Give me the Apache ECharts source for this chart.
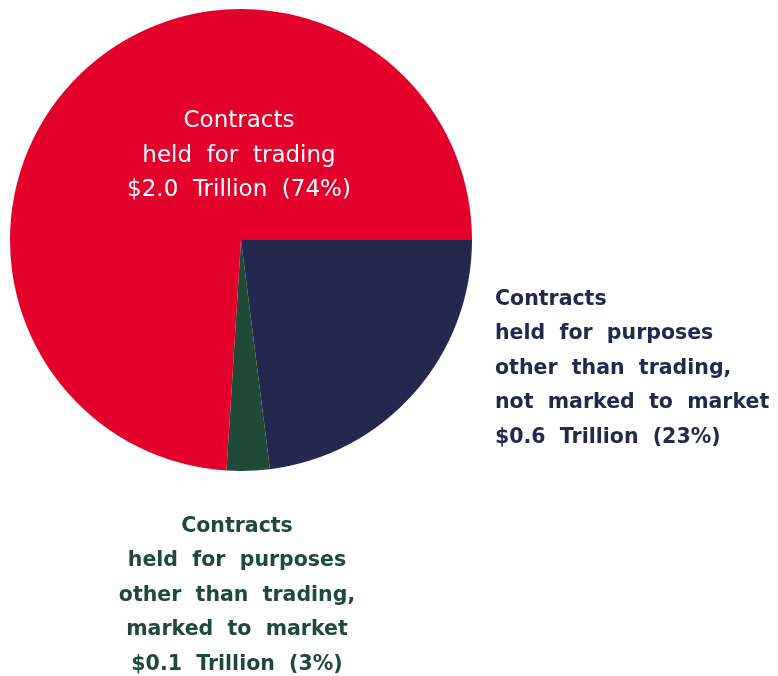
<!DOCTYPE html>
<html>
<head>
<meta charset="utf-8">
<script src="https://cdn.jsdelivr.net/npm/echarts@6/dist/echarts.min.js"></script>
<style>
  html, body { margin: 0; padding: 0; background: #fff; }
  #chart { width: 778px; height: 676px; }
</style>
</head>
<body>
<div id="chart"></div>
<script>
// slices, clockwise from 3 o'clock
const names = [
  'Contracts\nheld for purposes\nother than trading,\nnot marked to market',
  'Contracts\nheld for purposes\nother than trading,\nmarked to market',
  'Contracts\nheld for trading'
]
const amounts = ['$0.6 Trillion', '$0.1 Trillion', '$2.0 Trillion']
const shares = [23, 3, 74]
const colors = ['#24284f', '#1f4a37', '#e3002a']
const textColors = ['#24284f', '#1d4a3a', '#ffffff']

let chart = echarts.init(document.getElementById('chart'))

// where each label block sits (top point)
const labelPos = [
  { x: 495, y: 282, align: 'left' },
  { x: 237, y: 509, align: 'center' },
  { x: 239, y: 104, align: 'center' }
]

// loose word spacing like the printed original
const spaced = s => s.replace(/ /g, '  ')

chart.setOption({
  animation: false,
  series: [
    {
      type: 'pie',
      center: [241, 240],
      radius: [0, 231],
      startAngle: 0,
      clockwise: true,
      silent: true,
      data: shares.map((v, i) => ({
        value: v,
        name: names[i],
        itemStyle: { color: colors[i] },
        label: {
          color: textColors[i],
          fontWeight: i === 2 ? 'normal' : 'bold',
          fontSize: i === 2 ? 23 : 20.5
        }
      })),
      label: {
        show: true,
        position: 'outside',
        overflow: 'none',
        width: 400,
        fontFamily: 'DejaVu Sans',
        lineHeight: 34.5,
        formatter: p => spaced(p.name + '\n' + amounts[p.dataIndex] + ' (' + p.value + '%)')
      },
      labelLine: { show: false },
      labelLayout: p => ({
        x: labelPos[p.dataIndex].x,
        y: labelPos[p.dataIndex].y,
        align: labelPos[p.dataIndex].align,
        verticalAlign: 'top'
      })
    }
  ]
})
</script>
</body>
</html>
